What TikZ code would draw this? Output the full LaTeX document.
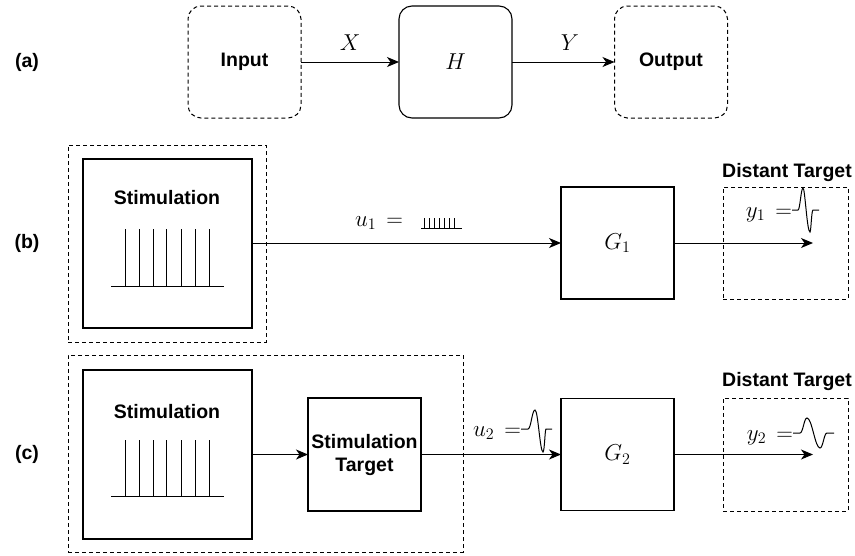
\RequirePackage{fix-cm}
\documentclass[tikz,border=0pt]{standalone}
\usepackage{fontspec}
\setmainfont{Liberation Sans}
\usetikzlibrary{arrows.meta}
\begin{document}
\begin{tikzpicture}[x=1pt,y=-1pt,
  every node/.style={inner sep=0pt, outer sep=0pt},
  lbl/.style={font=\bfseries\fontsize{19.5}{23}\selectfont, align=center},
  mlbl/.style={font=\fontsize{23}{27}\selectfont},
  dbox/.style={draw, dashed, line width=1pt, dash pattern=on 4pt off 3pt},
  sbox/.style={draw, line width=1.1pt},
  rbox/.style={minimum width=113pt, minimum height=112pt, rounded corners=13pt},
  gbox/.style={sbox, minimum width=113pt, minimum height=112pt},
  arr/.style={line width=1pt, -{Stealth[length=12pt,width=10pt,inset=3.5pt]}},
  wire/.style={line width=1pt},
  thin/.style={line width=0.9pt}
]
\useasboundingbox (0,0) rectangle (855,555);

% ---------- (a) ----------
\node[lbl] (la) at (27,62) {(a)};
\node[dbox, rbox, lbl] (in) at (244.5,62) {Input};
\node[sbox, rbox, mlbl] (h) at (455.5,62) {$H$};
\node[dbox, rbox, lbl] (out) at (671,62) {Output};
\draw[arr] (in) -- (h);
\draw[arr] (h) -- (out);
\node[mlbl] (xl) at (350,43) {$X$};
\node[mlbl] (yl) at (570,43) {$Y$};

% ---------- (b) ----------
\node[lbl] (lb) at (27,243) {(b)};
\node[dbox, minimum width=198pt, minimum height=197pt] (bout) at (167,243.5) {};
\node[sbox, minimum width=169pt, minimum height=169pt] (bstim) at (167.5,243.5) {};
\node[lbl] (bstimt) at (167,198) {Stimulation};
\draw[thin] (111,286) -- (224,286);
\foreach \xx in {125,139,153,166,181,195,209} \draw[thin] (\xx,286) -- (\xx,229);
\node[gbox, mlbl] (g1) at (617.5,243) {$G_1$};
\draw[arr] (bstim.east |- g1.west) -- (g1.west);
\node[mlbl, anchor=base east] (u1) at (403,226) {$u_1 \, =$};
\draw[thin] (421,228) -- (462,228);
\foreach \xx in {424,429,434,439,444,449,454} \draw[thin] (\xx,228) -- (\xx,218);
\node[dbox, minimum width=125pt, minimum height=112pt] (bdt) at (785.5,243) {};
\node[lbl, anchor=south] (bdtt) at (787,182) {Distant Target};
\coordinate (bend) at (813,243);
\draw[arr] (g1.east) -- (bend);
\node[mlbl, anchor=base east] (y1) at (792,217) {$y_1 \, =$};
\draw[wire] (792,210) -- (798,210) .. controls (800,210) and (801,188) .. (803,188)
  .. controls (805,188) and (807,232) .. (810,232)
  .. controls (811,232) and (811.5,210) .. (813,210) -- (819,210);

% ---------- (c) ----------
\node[lbl] (lc) at (27,454) {(c)};
\node[dbox, minimum width=395pt, minimum height=197pt] (cout) at (265.5,453.5) {};
\node[sbox, minimum width=169pt, minimum height=169pt] (cstim) at (167.5,454.5) {};
\node[lbl] (cstimt) at (167,412) {Stimulation};
\draw[thin] (111,496) -- (224,496);
\foreach \xx in {125,139,153,166,181,195,209} \draw[thin] (\xx,496) -- (\xx,440);
\node[sbox, minimum width=113pt, minimum height=113pt, lbl] (ctgt) at (364.5,454.5) {Stimulation\\Target};
\draw[arr] (cstim.east |- ctgt.west) -- (ctgt.west);
\node[gbox, mlbl] (g2) at (617.5,454.5) {$G_2$};
\draw[arr] (ctgt.east) -- (g2.west);
\node[mlbl, anchor=base east] (u2) at (521,436) {$u_2 \, =$};
\draw[wire] (521,429) -- (528,429) .. controls (531,429) and (532,410) .. (535,410)
  .. controls (538,410) and (540,452) .. (543,452)
  .. controls (544.5,452) and (545,429) .. (546,429) -- (552,429);
\node[dbox, minimum width=125pt, minimum height=113pt] (cdt) at (785.5,454.5) {};
\node[lbl, anchor=south] (cdtt) at (787,391) {Distant Target};
\coordinate (cend) at (813,454.5);
\draw[arr] (g2.east) -- (cend);
\node[mlbl, anchor=base east] (y2) at (793,440) {$y_2 \, =$};
\draw[wire] (793,433) -- (800,433) .. controls (803,433) and (804,418) .. (807,418)
  .. controls (812,418) and (815,448) .. (820,448)
  .. controls (823,448) and (824,433) .. (827,433) -- (834,433);
\end{tikzpicture}
\end{document}
